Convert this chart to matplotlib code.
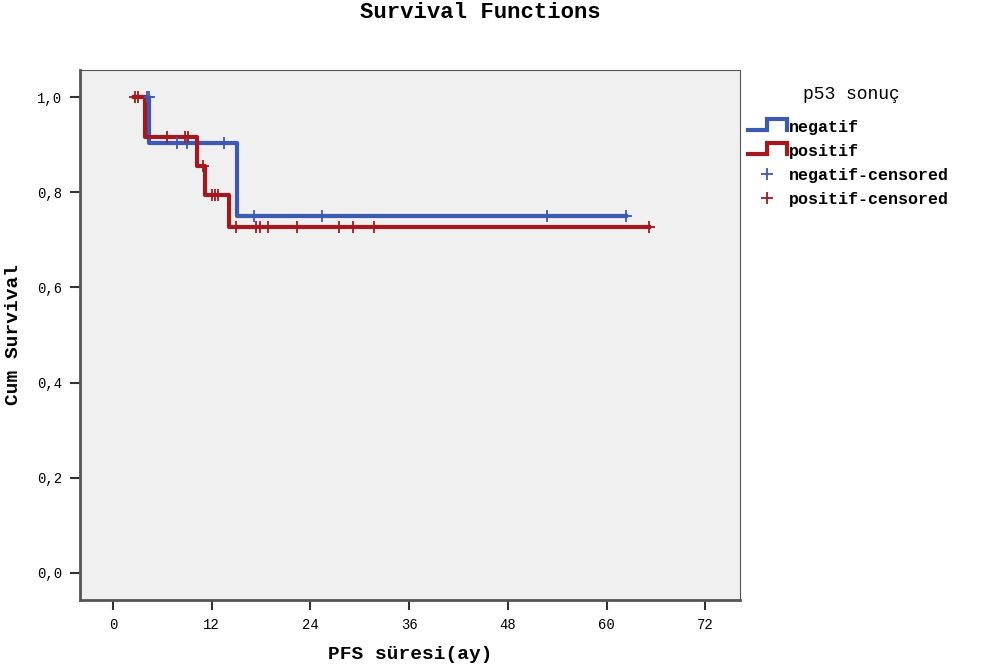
import matplotlib
matplotlib.use('Agg')
import matplotlib.pyplot as plt
from matplotlib.legend_handler import HandlerBase
from matplotlib.lines import Line2D

# step curves (time in months, cum survival)
neg_t = [3.0, 4.4, 15.1, 62.3]
neg_s = [1.0, 0.903, 0.750, 0.750]
pos_t = [2.5, 3.9, 10.2, 11.2, 14.1, 65.2]
pos_s = [1.0, 0.917, 0.856, 0.794, 0.727, 0.727]

# censored observations
neg_cens_t = [4.1, 4.4, 7.8, 9.0, 13.5, 17.1, 25.4, 52.8, 62.3]
neg_cens_s = [1.0, 1.0, 0.903, 0.903, 0.903, 0.750, 0.750, 0.750, 0.750]
pos_cens_t = [2.7, 3.0, 6.6, 8.7, 9.1, 10.9, 12.0, 12.4, 12.8,
              14.9, 17.4, 17.9, 18.8, 22.4, 27.5, 29.2, 31.7, 65.2]
pos_cens_s = [1.0, 1.0, 0.917, 0.917, 0.917, 0.856, 0.794, 0.794, 0.794,
              0.727, 0.727, 0.727, 0.727, 0.727, 0.727, 0.727, 0.727, 0.727]

x_ticks = [0, 12, 24, 36, 48, 60, 72]
y_ticks = [0.0, 0.2, 0.4, 0.6, 0.8, 1.0]
y_labels = ['0,0', '0,2', '0,4', '0,6', '0,8', '1,0']

blue = '#3d59b4'
red = '#a5181d'
font = 'Liberation Mono'


class StepHandler(HandlerBase):
    def create_artists(self, legend, orig, xd, yd, w, h, fontsize, trans):
        lo, hi = yd + h * 0.1, yd + h * 0.9
        xs = [xd, xd + w * 0.5, xd + w * 0.5, xd + w, xd + w]
        ys = [lo, lo, hi, hi, lo]
        ln = Line2D(xs, ys, color=orig.get_color(), lw=3,
                    transform=trans, solid_joinstyle='miter')
        return [ln]


fig = plt.figure(figsize=(9.82, 6.72), dpi=100)
ax = fig.add_axes([0.0815, 0.107, 0.672, 0.789])
ax.set_facecolor('#f0f0f0')

l1, = ax.step(neg_t, neg_s, where='post', color=blue, lw=3, label='negatif', zorder=3)
l2, = ax.step(pos_t, pos_s, where='post', color=red, lw=3, label='positif', zorder=4)
c1, = ax.plot(neg_cens_t, neg_cens_s, ls='none', marker='+', ms=9, mew=1.3,
              color=blue, label='negatif-censored', zorder=5)
c2, = ax.plot(pos_cens_t, pos_cens_s, ls='none', marker='+', ms=9, mew=1.3,
              color=red, label='positif-censored', zorder=6)

ax.set_xlim(-4, 76.2)
ax.set_ylim(-0.057, 1.057)
ax.set_xticks(x_ticks)
ax.set_xticklabels([str(v) for v in x_ticks], fontsize=10, family=font)
ax.set_yticks(y_ticks)
ax.set_yticklabels(y_labels, fontsize=10, family=font)
ax.tick_params(direction='out', length=7, width=1.5, color='#333333', pad=6)
for side in ['left', 'bottom']:
    ax.spines[side].set_linewidth(2)
    ax.spines[side].set_color('#555555')
for side in ['top', 'right']:
    ax.spines[side].set_linewidth(0.8)
    ax.spines[side].set_color('#555555')

ax.set_xlabel('PFS süresi(ay)', fontsize=14, fontweight='bold', family=font, labelpad=10)
ax.set_ylabel('Cum Survival', fontsize=14, fontweight='bold', family=font, labelpad=11)
fig.text(0.489, 0.982, 'Survival Functions', ha='center', va='center',
         fontsize=16, fontweight='bold', family=font)

leg = ax.legend(handles=[l1, l2, c1, c2], handler_map={l1: StepHandler(), l2: StepHandler()},
                loc='upper left', bbox_to_anchor=(1.0, 0.97), frameon=False,
                title='p53 sonuç', prop={'family': font, 'size': 12, 'weight': 'bold'},
                handlelength=2.3, handleheight=0.9, handletextpad=0.15,
                labelspacing=0.5, borderaxespad=0.1)
leg.get_title().set_family(font)
leg.get_title().set_fontsize(13)
leg._legend_box.align = 'left'
leg.get_title().set_position((55, 8))

fig.savefig('out.png', dpi=100)
